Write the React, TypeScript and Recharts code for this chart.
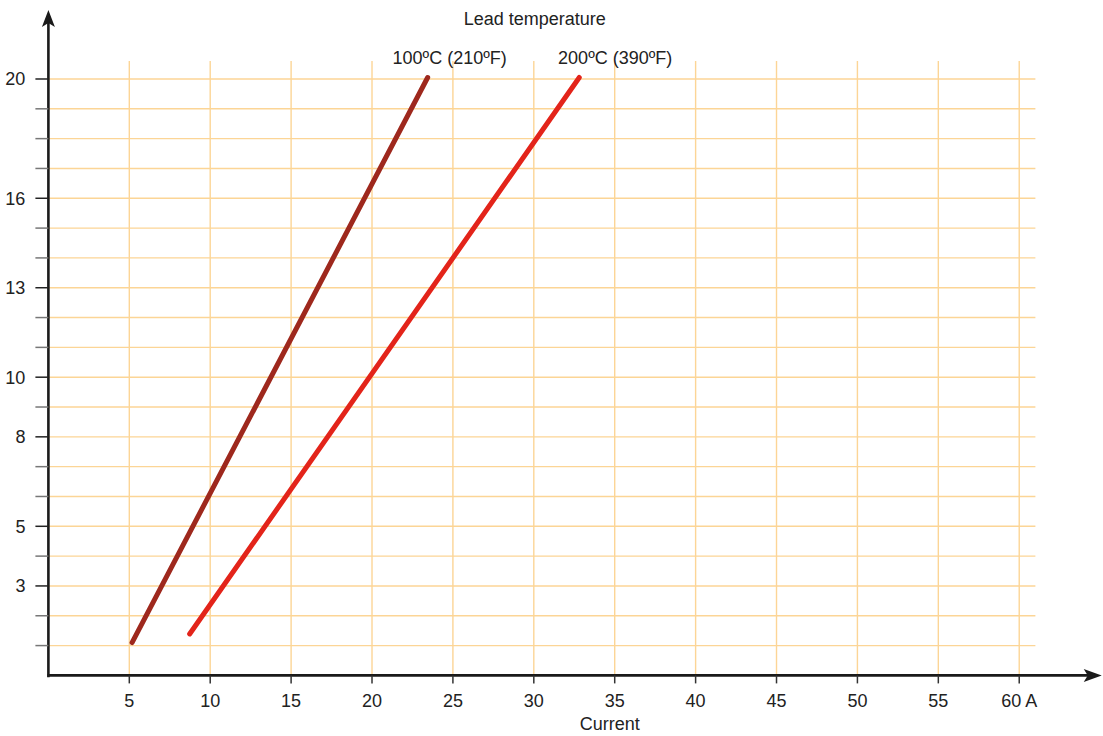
import React from 'react';
import { LineChart, Line, XAxis, YAxis, CartesianGrid, ReferenceLine, ReferenceDot } from 'recharts';

// chart values
const currentTicks = [5, 10, 15, 20, 25, 30, 35, 40, 45, 50, 55, 60];
const valueTicks = [1, 2, 3, 4, 5, 6, 7, 8, 9, 10, 11, 12, 13, 14, 15, 16, 17, 18, 19, 20];
const labelledValues = [3, 5, 8, 10, 13, 16, 20];

const current100 = [5.17, 23.44];
const values100 = [1.1, 20.05];
const current200 = [8.73, 32.81];
const values200 = [1.39, 20.05];

const seriesNames = ['100ºC (210ºF)', '200ºC (390ºF)'];
const chartTitle = 'Lead temperature';
const xTitle = 'Current';

const line100 = current100.map((x, i) => ({ x, y: values100[i] }));
const line200 = current200.map((x, i) => ({ x, y: values200[i] }));

const TEXT = '#222';
const GRID = '#FCD596';
const FONT = 18;

const YTick = ({ x, y, payload }: any) => {
  const labelled = labelledValues.includes(payload.value);
  return (
    <g>
      <line x1={x + 10} x2={x + 23} y1={y} y2={y} stroke={labelled ? '#222' : '#777'} strokeWidth={1.5} />
      {labelled && (
        <text x={x} y={y} dy="0.355em" textAnchor="end" fill={TEXT} fontSize={FONT}>
          {payload.value}
        </text>
      )}
    </g>
  );
};

const YAxisArrow = (props: any) => {
  const { x1, y1, x2, y2 } = props;
  return (
    <g>
      <line x1={x1} y1={y1} x2={x2} y2={y2 + 10} stroke="#1a1a1a" strokeWidth={2.6} />
      <path d={`M${x2},${y2} L${x2 + 6.5},${y2 + 17} L${x2},${y2 + 13} L${x2 - 6.5},${y2 + 17} Z`} fill="#1a1a1a" />
    </g>
  );
};

const XAxisArrow = (props: any) => {
  const { x1, y1, x2, y2 } = props;
  return (
    <g>
      <line x1={x1} y1={y1} x2={x2 - 10} y2={y2} stroke="#1a1a1a" strokeWidth={2.6} />
      <path d={`M${x2},${y2} L${x2 - 18},${y2 - 6.5} L${x2 - 14},${y2} L${x2 - 18},${y2 + 6.5} Z`} fill="#1a1a1a" />
    </g>
  );
};

const textLabel = (value: string) => ({ value, position: 'center' as const, fill: TEXT, fontSize: FONT });

export default function App() {
  return (
    <div style={{ position: 'absolute', left: 0, top: 0, fontFamily: '"Liberation Sans", Arial, sans-serif' }}>
      <LineChart width={1103} height={736} margin={{ top: 61.1, right: 67.6, left: 0, bottom: 0 }}>
        <CartesianGrid
          stroke={GRID}
          strokeWidth={1.4}
          horizontalValues={valueTicks}
          verticalValues={currentTicks}
        />
        <XAxis
          type="number"
          dataKey="x"
          domain={[0, 61]}
          allowDataOverflow
          ticks={currentTicks}
          tickFormatter={(v) => (v === 60 ? '60 A' : String(v))}
          axisLine={false}
          tickSize={8}
          tickMargin={11}
          tickLine={{ stroke: '#333', strokeWidth: 1.5 }}
          tick={{ fill: TEXT, fontSize: FONT }}
          height={60.6}
        />
        <YAxis
          type="number"
          dataKey="y"
          domain={[0, 20.6]}
          allowDataOverflow
          ticks={valueTicks}
          interval={0}
          axisLine={false}
          tickLine={false}
          tickSize={13}
          tickMargin={10}
          tick={<YTick />}
          width={48.4}
        />
        <Line data={line100} dataKey="y" stroke="#9E281D" strokeWidth={5} strokeLinecap="round" dot={false} isAnimationActive={false} />
        <Line data={line200} dataKey="y" stroke="#E3241A" strokeWidth={5} strokeLinecap="round" dot={false} isAnimationActive={false} />
        <ReferenceLine segment={[{ x: 0, y: -0.06 }, { x: 0, y: 22.31 }]} ifOverflow="visible" shape={<YAxisArrow />} />
        <ReferenceLine segment={[{ x: -0.06, y: 0 }, { x: 65.1, y: 0 }]} ifOverflow="visible" shape={<XAxisArrow />} />
        <ReferenceDot x={30.06} y={22.03} r={0} stroke="none" fill="none" ifOverflow="visible" label={textLabel(chartTitle)} />
        <ReferenceDot x={24.8} y={20.72} r={0} stroke="none" fill="none" ifOverflow="visible" label={textLabel(seriesNames[0])} />
        <ReferenceDot x={35.03} y={20.72} r={0} stroke="none" fill="none" ifOverflow="visible" label={textLabel(seriesNames[1])} />
        <ReferenceDot x={34.7} y={-1.6} r={0} stroke="none" fill="none" ifOverflow="visible" label={textLabel(xTitle)} />
      </LineChart>
    </div>
  );
}
